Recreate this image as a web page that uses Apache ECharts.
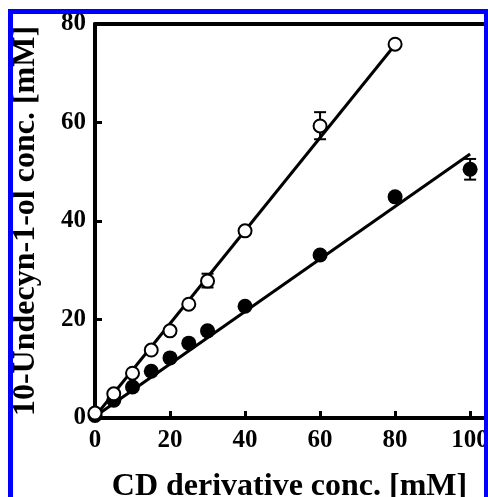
<!DOCTYPE html>
<html><head><meta charset="utf-8">
<script src="https://cdn.jsdelivr.net/npm/echarts@6/dist/echarts.min.js"></script>
<style>html,body{margin:0;padding:0;background:#fff;overflow:hidden}#c{width:488px;height:497px}</style>
</head><body><div id="c"></div>
<script>
const xTickLabels = [0, 20, 40, 60, 80, 100];
const yTickLabels = [0, 20, 40, 60, 80];
const openX = [0, 5, 10, 15, 20, 25, 30, 40, 60, 80];
const openY = [1.0, 4.9, 9.1, 13.8, 17.7, 23.1, 27.8, 38.0, 59.3, 75.9];
const filledX = [0, 5, 10, 15, 20, 25, 30, 40, 60, 80, 100];
const filledY = [0.5, 3.6, 6.3, 9.5, 12.2, 15.2, 17.7, 22.7, 33.1, 44.9, 50.5];
const openFitX = [0, 80];
const openFitY = [0.3, 75.8];
const filledFitX = [0, 100];
const filledFitY = [0.3, 53.6];
const openErrX = [30, 60];
const openErrLow = [26.5, 56.6];
const openErrHigh = [29.3, 62.1];
const filledErrX = [100];
const filledErrLow = [48.4];
const filledErrHigh = [52.6];

const FONT = 'Liberation Serif, Times New Roman, serif';
const zip2 = (a, b) => a.map((v, i) => [v, b[i]]);
const zip3 = (a, b, c) => a.map((v, i) => [v, b[i], c[i]]);

function errRender(params, api) {
  const x = api.value(0), lo = api.value(1), hi = api.value(2);
  const p1 = api.coord([x, hi]), p2 = api.coord([x, lo]);
  const w = 6;
  const st = { stroke: '#000', lineWidth: 2 };
  return { type: 'group', children: [
    { type: 'line', shape: { x1: p1[0], y1: p1[1], x2: p2[0], y2: p2[1] }, style: st },
    { type: 'line', shape: { x1: p1[0] - w, y1: p1[1], x2: p1[0] + w, y2: p1[1] }, style: st },
    { type: 'line', shape: { x1: p2[0] - w, y1: p2[1], x2: p2[0] + w, y2: p2[1] }, style: st }
  ]};
}

const chart = echarts.init(document.getElementById('c'), null, { renderer: 'canvas' });
const XMAX = 103.7;
chart.setOption({
  animation: false,
  backgroundColor: '#fff',
  grid: { left: 95, right: 4, top: 24, bottom: 79, containLabel: false, outerBoundsMode: 'none' },
  xAxis: [{
    type: 'value', min: 0, max: XMAX, position: 'bottom',
    axisLine: { onZero: false, lineStyle: { color: '#000', width: 4 } },
    axisTick: { inside: true, length: 7, lineStyle: { color: '#000', width: 3 }, customValues: xTickLabels.slice(1) },
    axisLabel: { customValues: xTickLabels, color: '#000', fontFamily: FONT, fontWeight: 'bold', fontSize: 25, margin: 10 },
    splitLine: { show: false },
    name: 'CD derivative conc. [mM]', nameLocation: 'middle', nameGap: 53,
    nameTextStyle: { color: '#000', fontFamily: FONT, fontWeight: 'bold', fontSize: 32 }
  }, {
    type: 'value', min: 0, max: XMAX, position: 'top',
    axisLine: { show: true, onZero: false, lineStyle: { color: '#000', width: 4 } },
    axisTick: { show: false }, axisLabel: { show: false }, splitLine: { show: false }
  }],
  yAxis: {
    type: 'value', min: 0, max: 80, interval: 20,
    axisLine: { onZero: false, lineStyle: { color: '#000', width: 4 } },
    axisTick: { inside: true, length: 7, lineStyle: { color: '#000', width: 3 } },
    axisLabel: { color: '#000', fontFamily: FONT, fontWeight: 'bold', fontSize: 25, margin: 9 },
    splitLine: { show: false },
    name: '10-Undecyn-1-ol conc. [mM]', nameLocation: 'middle', nameGap: 53,
    nameTextStyle: { color: '#000', fontFamily: FONT, fontWeight: 'bold', fontSize: 32 }
  },
  series: [
    { type: 'line', data: zip2(openFitX, openFitY), symbol: 'none', lineStyle: { color: '#000', width: 3 }, z: 2 },
    { type: 'line', data: zip2(filledFitX, filledFitY), symbol: 'none', lineStyle: { color: '#000', width: 3 }, z: 2 },
    { type: 'custom', data: zip3(openErrX, openErrLow, openErrHigh), renderItem: errRender, z: 3 },
    { type: 'custom', data: zip3(filledErrX, filledErrLow, filledErrHigh), renderItem: errRender, z: 3 },
    { type: 'scatter', data: zip2(filledX, filledY), symbol: 'circle', symbolSize: 15,
      itemStyle: { color: '#000', borderColor: '#000', borderWidth: 0, opacity: 1 }, z: 4 },
    { type: 'scatter', data: zip2(openX, openY), symbol: 'circle', symbolSize: 13,
      itemStyle: { color: '#fff', borderColor: '#000', borderWidth: 2, opacity: 1 }, z: 5 }
  ],
  graphic: [
    { type: 'rect', shape: { x: 8, y: 9, width: 480, height: 5 }, style: { fill: '#0000ff' }, z: 100 },
    { type: 'rect', shape: { x: 8, y: 9, width: 5, height: 488 }, style: { fill: '#0000ff' }, z: 100 },
    { type: 'rect', shape: { x: 484, y: 9, width: 4, height: 488 }, style: { fill: '#0000ff' }, z: 100 }
  ]
});
</script>
</body></html>
